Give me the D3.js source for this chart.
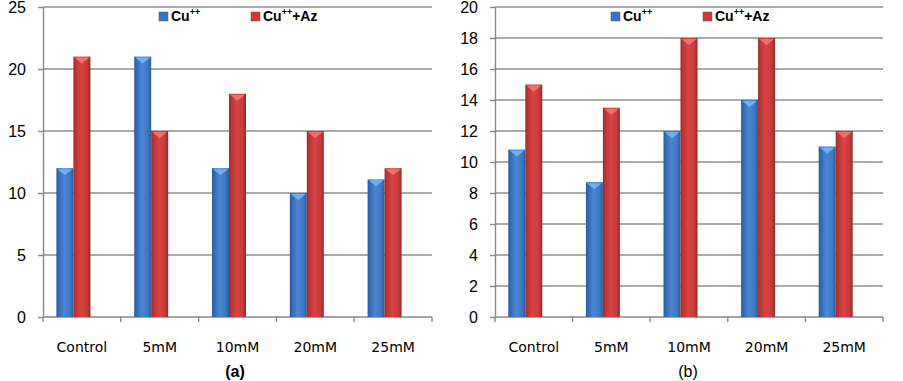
<!DOCTYPE html>
<html lang="en">
<head>
    <meta charset="UTF-8">
    <title>Cu++ / Cu++ + Az</title>
    <style>
        body { margin: 0; background: #fff; }
        svg { display: block; font-family: "Liberation Sans", Arial, sans-serif; }
        .axis path, .axis line { stroke: #888; }
        .axis text { fill: #000; }
    </style>
</head>
<body>
    <svg id="chart" width="903" height="381"></svg>
    <script src="https://d3js.org/d3.v7.min.js"></script>
    <script>
        const categories = ['Control', '5mM', '10mM', '20mM', '25mM'];
        const series = ['Cu', 'CuAz'];

        // chart (a)
        const cuA = [12, 21, 12, 10, 11.1];
        const cuAzA = [21, 15, 18, 15, 12];
        const ticksA = [0, 5, 10, 15, 20, 25];

        // chart (b)
        const cuB = [10.8, 8.7, 12, 14, 11];
        const cuAzB = [15, 13.5, 18, 18, 12];
        const ticksB = [0, 2, 4, 6, 8, 10, 12, 14, 16, 18, 20];

        const svg = d3.select('#chart');
        const defs = svg.append('defs');

        // gradients for the bars (dark edges, light middle)
        function gradient(id, stops) {
            const g = defs.append('linearGradient').attr('id', id)
                .attr('x1', 0).attr('x2', 1).attr('y1', 0).attr('y2', 0);
            stops.forEach(s => g.append('stop').attr('offset', s[0]).attr('stop-color', s[1]));
        }
        gradient('gBlue', [[0, '#2a5a9c'], [0.12, '#3468b2'], [0.45, '#4a86d2'], [0.8, '#3f78c2'], [1, '#2b5c9e']]);
        gradient('gRed', [[0, '#9c2a2a'], [0.12, '#b83434'], [0.45, '#d84444'], [0.8, '#c83b3b'], [1, '#962828']]);
        const colors = { Cu: 'url(#gBlue)', CuAz: 'url(#gRed)' };
        const capColors = { Cu: '#6fb0f0', CuAz: '#f07070' };
        const legendColors = { Cu: '#3a74c4', CuAz: '#cc3a3a' };

        function drawChart(opts) {
            const { left, right, top, bottom, max, ticks, values, label, bold, labelX } = opts;
            const g = svg.append('g');

            const x = d3.scaleBand().domain(categories).range([left, right]);
            const y = d3.scaleLinear().domain([0, max]).range([bottom, top]);

            // grid lines
            g.append('g').selectAll('line').data(ticks.filter(t => t > 0)).join('line')
                .attr('x1', left).attr('x2', right)
                .attr('y1', d => y(d)).attr('y2', d => y(d))
                .attr('stroke', '#8f8f8f').attr('stroke-width', 1.4);

            // y axis
            const yAxis = g.append('g').attr('class', 'axis')
                .attr('transform', `translate(${left},0)`)
                .call(d3.axisLeft(y).tickValues(ticks).tickSize(5).tickSizeOuter(0).tickPadding(12));
            yAxis.selectAll('path, line').attr('stroke-width', 1.4);
            yAxis.selectAll('text').attr('font-size', 16).attr('dy', '0.36em');

            // x axis
            const xAxis = g.append('g').attr('class', 'axis')
                .attr('transform', `translate(0,${bottom})`);
            xAxis.append('line').attr('x1', left).attr('x2', right).attr('stroke-width', 1.4);
            const edges = categories.map(c => x(c)).concat([right]);
            xAxis.selectAll('line.tk').data(edges).join('line').attr('class', 'tk')
                .attr('x1', d => d).attr('x2', d => d).attr('y1', 0).attr('y2', 5)
                .attr('stroke-width', 1.4);
            xAxis.selectAll('text').data(categories).join('text')
                .attr('x', d => x(d) + x.bandwidth() / 2)
                .attr('y', 35)
                .attr('text-anchor', 'middle')
                .attr('font-family', '"DejaVu Sans", Verdana, sans-serif')
                .attr('font-size', 14)
                .text(d => d);

            // bars: group shifted left a bit like the 3D column look
            const inner = d3.scaleBand().domain(series).range([-25.5, 8.5]);
            const rows = categories.map((c, i) => ({ c, vals: series.map((s, j) => ({ s, v: values[j][i] })) }));
            const groups = g.append('g').selectAll('g').data(rows).join('g')
                .attr('transform', d => `translate(${x(d.c) + x.bandwidth() / 2},0)`);
            groups.selectAll('rect').data(d => d.vals).join('rect')
                .attr('x', d => inner(d.s))
                .attr('y', d => y(d.v))
                .attr('width', inner.bandwidth())
                .attr('height', d => y(0) - y(d.v))
                .attr('fill', d => colors[d.s]);
            groups.selectAll('path.cap').data(d => d.vals).join('path').attr('class', 'cap')
                .attr('d', d => {
                    const x0 = inner(d.s) + 1, x1 = inner(d.s) + inner.bandwidth() - 1, yy = y(d.v);
                    return `M${x0},${yy + 1}L${x1},${yy + 1}L${(x0 + x1) / 2},${yy + 7}Z`;
                })
                .attr('fill', d => capColors[d.s]);

            // legend
            const leg = g.append('g').attr('transform', `translate(${left + 116},0)`);
            const items = [{ s: 'Cu', dx: 0, extra: '' }, { s: 'CuAz', dx: 92, extra: '+Az' }];
            items.forEach(it => {
                leg.append('rect').attr('x', it.dx).attr('y', 12).attr('width', 9).attr('height', 9)
                    .attr('fill', legendColors[it.s]).attr('stroke', '#555').attr('stroke-width', 0.5);
                const t = leg.append('text').attr('x', it.dx + 12).attr('y', 21)
                    .attr('font-size', 14).attr('font-weight', 'bold');
                t.append('tspan').text('Cu');
                t.append('tspan').attr('font-size', 9).attr('dy', -6).text('++');
                if (it.extra) t.append('tspan').attr('dy', 6).text(it.extra);
            });

            // caption
            svg.append('text').attr('x', labelX).attr('y', 377)
                .attr('text-anchor', 'middle').attr('font-size', 16)
                .attr('font-weight', bold ? 'bold' : 'normal')
                .text(label);
        }

        drawChart({ left: 43, right: 432, top: 7, bottom: 317, max: 25, ticks: ticksA,
            values: [cuA, cuAzA], label: '(a)', bold: true, labelX: 235 });
        drawChart({ left: 495, right: 883, top: 7, bottom: 317, max: 20, ticks: ticksB,
            values: [cuB, cuAzB], label: '(b)', bold: false, labelX: 688 });
    </script>
</body>
</html>
